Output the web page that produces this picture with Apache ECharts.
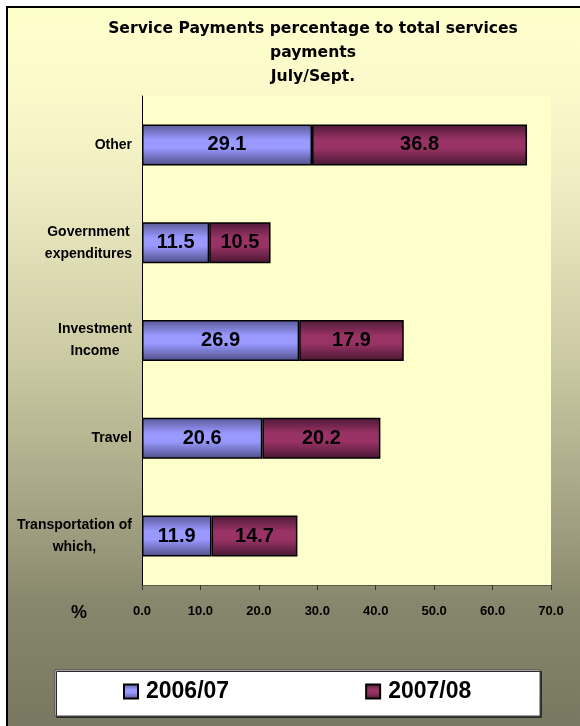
<!DOCTYPE html>
<html>
<head>
<meta charset="utf-8">
<title>Service Payments</title>
<script src="https://cdn.jsdelivr.net/npm/echarts@6/dist/echarts.min.js"></script>
<style>
  html, body { margin: 0; padding: 0; background: #ffffff; overflow: hidden; }
  #chart { width: 580px; height: 726px; }
</style>
</head>
<body>
<div id="chart"></div>
<script>
// Service payment categories, listed bottom to top on the category axis
const categories = [
  'Transportation of\nwhich,',
  'Travel',
  'Investment\nIncome',
  'Government\nexpenditures',
  'Other'
];
// Share of total services payments (%), July/Sept.
const series2006 = [11.9, 20.6, 26.9, 11.5, 29.1];
const series2007 = [14.7, 20.2, 17.9, 10.5, 36.8];
const seriesNames = ['2006/07', '2007/08'];
const titleLines = ['Service Payments percentage to total services', 'payments', 'July/Sept.'];
const xMin = 0, xMax = 70, xStep = 10;

const SANS = '"Liberation Sans", Arial, sans-serif';
const chart = echarts.init(document.getElementById('chart'), null, { renderer: 'canvas' });

function shade(edgeTop, mid, edgeBottom) {
  return new echarts.graphic.LinearGradient(0, 0, 0, 1, [
    { offset: 0, color: edgeTop },
    { offset: 0.38, color: mid },
    { offset: 0.58, color: mid },
    { offset: 1, color: edgeBottom }
  ]);
}

const barLabel = {
  show: true,
  position: 'inside',
  color: '#000',
  fontFamily: SANS,
  fontWeight: 'bold',
  fontSize: 20,
  formatter: p => p.value.toFixed(1)
};

const option = {
  backgroundColor: '#ffffff',
  animation: false,
  title: {
    text: titleLines.join('\n'),
    left: 313,
    top: 17,
    padding: 0,
    textAlign: 'center',
    textStyle: {
      fontFamily: '"DejaVu Sans", sans-serif',
      fontWeight: 'bold',
      fontSize: 15.6,
      lineHeight: 24,
      color: '#000'
    }
  },
  graphic: [
    {
      // chart area fill, fading from pale yellow to olive
      type: 'rect',
      z: -100,
      shape: { x: 7, y: 7, width: 573, height: 719 },
      style: {
        fill: new echarts.graphic.LinearGradient(0, 7, 0, 726, [
          { offset: 0, color: '#FFFFCC' },
          { offset: 0.12, color: '#FBF9CA' },
          { offset: 0.25, color: '#EFECC3' },
          { offset: 0.5, color: '#CAC8A1' },
          { offset: 0.75, color: '#9A997C' },
          { offset: 0.83, color: '#87876D' },
          { offset: 1, color: '#787860' }
        ], true)
      }
    },
    {
      // chart area frame, left and top edges
      type: 'polyline',
      z: -99,
      shape: { points: [[7, 726], [7, 7], [580, 7]] },
      style: { stroke: '#000', lineWidth: 2, fill: null }
    },
    {
      type: 'rect',
      z: 1,
      shape: { x: 55, y: 670, width: 485, height: 46 },
      style: {
        fill: '#ffffff',
        stroke: '#4a4a4a',
        lineWidth: 1,
        shadowColor: '#2a2a2a',
        shadowOffsetX: 1.5,
        shadowOffsetY: 1.5,
        shadowBlur: 0
      }
    },
    {
      type: 'text',
      z: 5,
      x: 79,
      y: 613,
      style: {
        text: '%',
        fill: '#000',
        font: 'bold 18px ' + SANS,
        align: 'center',
        verticalAlign: 'middle'
      }
    }
  ],
  legend: {
    data: seriesNames,
    left: 123,
    top: 680,
    padding: 0,
    itemWidth: 14,
    itemHeight: 14,
    itemGap: 136,
    icon: 'rect',
    textStyle: {
      fontFamily: SANS,
      fontWeight: 'bold',
      fontSize: 23,
      color: '#000',
      padding: [0, 0, 0, 3]
    }
  },
  grid: {
    left: 142,
    right: 29,
    top: 96,
    bottom: 141,
    show: true,
    backgroundColor: '#FFFFCC',
    borderWidth: 0
  },
  xAxis: {
    type: 'value',
    min: xMin,
    max: xMax,
    interval: xStep,
    axisLine: { show: true, lineStyle: { color: '#5a5a4a', width: 1 } },
    axisTick: { show: true, inside: false, length: 5, lineStyle: { color: '#333' } },
    splitLine: { show: false },
    axisLabel: {
      margin: 20,
      color: '#000',
      fontFamily: SANS,
      fontWeight: 'bold',
      fontSize: 13,
      formatter: v => v.toFixed(1)
    }
  },
  yAxis: {
    type: 'category',
    data: categories,
    axisLine: { show: true, lineStyle: { color: '#000', width: 1 } },
    axisTick: { show: false },
    splitLine: { show: false },
    axisLabel: {
      margin: 10,
      align: 'right',
      formatter: v => v.split('\n').map(s => '{c|' + s + '}').join('\n'),
      rich: {
        c: {
          align: 'center',
          color: '#000',
          fontFamily: SANS,
          fontWeight: 'bold',
          fontSize: 14,
          lineHeight: 22
        }
      }
    }
  },
  series: [
    {
      name: seriesNames[0],
      type: 'bar',
      stack: 'total',
      barWidth: 41,
      data: series2006,
      itemStyle: {
        color: shade('#5A5A98', '#9999FF', '#4E4E88'),
        borderColor: '#000',
        borderWidth: 1.5
      },
      label: barLabel
    },
    {
      name: seriesNames[1],
      type: 'bar',
      stack: 'total',
      barWidth: 41,
      data: series2007,
      itemStyle: {
        color: shade('#4F1A35', '#993366', '#481730'),
        borderColor: '#000',
        borderWidth: 1.5
      },
      label: barLabel
    }
  ]
};

chart.setOption(option);
</script>
</body>
</html>
